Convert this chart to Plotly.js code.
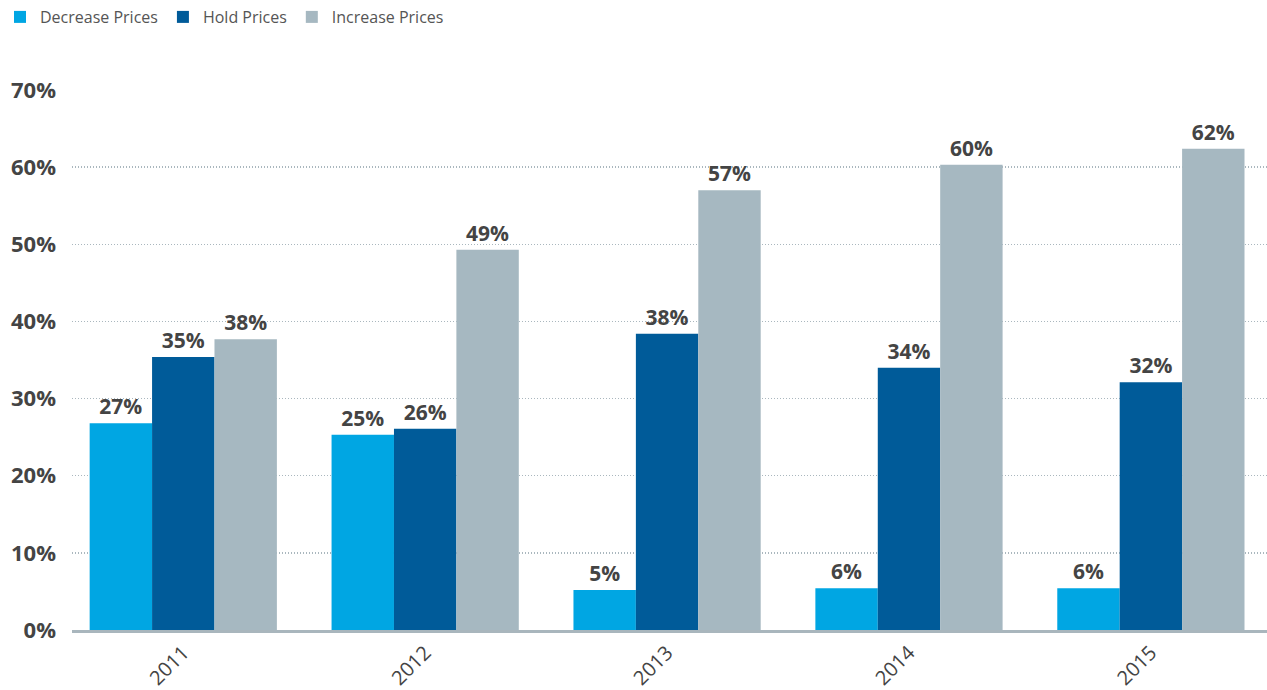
<!DOCTYPE html>
<html><head><meta charset="utf-8">
<script src="https://cdn.plot.ly/plotly-3.0.1.min.js"></script>
<style>html,body{margin:0;padding:0;background:#fff;}#chart{width:1267px;height:690px;}</style>
</head><body><div id="chart"></div>
<script>
const years = ['2011','2012','2013','2014','2015'];
const decreasePrices = [26.8, 25.3, 5.2, 5.4, 5.4];
const holdPrices = [35.4, 26.1, 38.4, 34.0, 32.1];
const increasePrices = [37.7, 49.3, 57.0, 60.3, 62.4];
const decreaseLabels = ['27%','25%','5%','6%','6%'];
const holdLabels = ['35%','26%','38%','34%','32%'];
const increaseLabels = ['38%','49%','57%','60%','62%'];
const yTicks = [0,10,20,30,40,50,60,70];
const yTickLabels = ['0%','10%','20%','30%','40%','50%','60%','70%'];

const labelFont = {family: 'Open Sans, sans-serif', size: 21, color: '#444444', weight: 700};
function mk(name, y, text, color){
  return {type:'bar', name:name, x:years, y:y, text:text, textposition:'outside',
    textfont:labelFont, cliponaxis:false, marker:{color:color, line:{width:0}}, hoverinfo:'skip'};
}
const data = [
  mk('Decrease Prices', decreasePrices, decreaseLabels, '#00a6e3'),
  mk('Hold Prices', holdPrices, holdLabels, '#005b99'),
  mk('Increase Prices', increasePrices, increaseLabels, '#a6b8c1')
];
const layout = {
  width:1267, height:690,
  margin:{l:72, r:0, t:90, b:60},
  paper_bgcolor:'#fff', plot_bgcolor:'#fff',
  barmode:'group', bargap:0.226, bargroupgap:0,
  showlegend:true,
  legend:{orientation:'h', x:0, xref:'container', xanchor:'left', y:1, yref:'container', yanchor:'top',
    font:{family:'Open Sans, sans-serif', size:16, color:'#555555'}, itemwidth:30, tracegroupgap:0},
  xaxis:{type:'category', range:[-0.46, 4.48], tickangle:-45, showgrid:false, zeroline:false,
    showline:true, linecolor:'#a9b6bd', linewidth:3, ticks:'',
    tickfont:{family:'Open Sans, sans-serif', size:20, color:'#444444'}},
  yaxis:{range:[0,70], tickvals:yTicks, ticktext:yTickLabels, showgrid:true, gridcolor:'#aab7be',
    griddash:'1px,2px', gridwidth:1.5, zeroline:false, showline:false, ticks:'', ticklabelstandoff:15,
    tickfont:{family:'Open Sans, sans-serif', size:22, color:'#444444', weight:700}}
};
Plotly.newPlot('chart', data, layout, {displayModeBar:false, staticPlot:true});
</script></body></html>
